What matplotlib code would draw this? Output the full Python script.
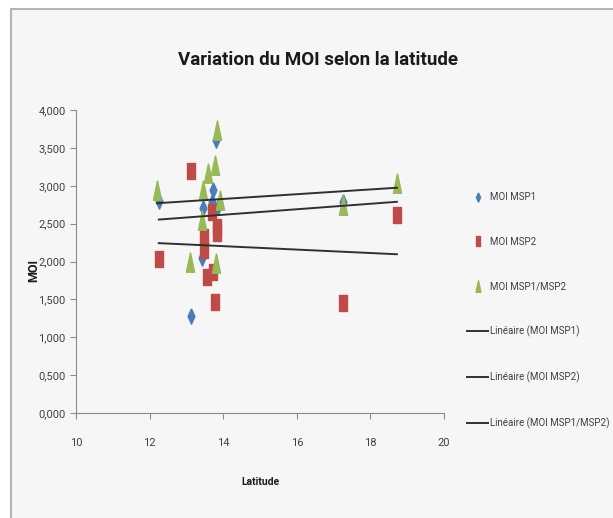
# MOI vs latitude scatter with linear trend lines

import numpy as np
import matplotlib.pyplot as plt
from matplotlib.patches import Rectangle
from matplotlib.ticker import FuncFormatter
from matplotlib.lines import Line2D

plt.rcParams['font.family'] = ['Roboto', 'DejaVu Sans']

# data
lat_msp1 = [12.25, 13.12, 13.42, 13.45, 13.70, 13.72, 13.80, 13.86, 17.26, 18.72]
moi_msp1 = [2.80, 1.28, 2.05, 2.70, 2.79, 2.94, 3.60, 2.72, 2.79, 2.62]

lat_msp2 = [12.25, 13.12, 13.48, 13.48, 13.56, 13.72, 13.78, 13.83, 13.83, 13.70, 17.26, 18.72]
moi_msp2 = [2.03, 3.19, 2.32, 2.15, 1.80, 1.86, 1.47, 2.38, 2.45, 2.65, 1.45, 2.62]

lat_ratio = [12.20, 13.10, 13.83, 13.78, 13.60, 13.45, 13.42, 13.80, 13.90, 17.26, 18.72]
moi_ratio = [2.94, 1.99, 3.74, 3.27, 3.17, 2.94, 2.55, 1.98, 2.81, 2.75, 3.04]

series_names = ['MOI MSP1', 'MOI MSP2', 'MOI MSP1/MSP2']
trend_names = ['Linéaire (MOI MSP1)', 'Linéaire (MOI MSP2)', 'Linéaire (MOI MSP1/MSP2)']

x_ticks = [10, 12, 14, 16, 18, 20]
y_ticks = [0, 0.5, 1, 1.5, 2, 2.5, 3, 3.5, 4]

diamond = [(0, 1), (0.45, 0), (0, -1), (-0.45, 0), (0, 1)]
rect = [(-0.5, -1), (0.5, -1), (0.5, 1), (-0.5, 1), (-0.5, -1)]
tri = [(0, 1), (0.42, -1), (-0.42, -1), (0, 1)]

colors = ['#4a7ebb', '#be4b48', '#98b954']
markers = [diamond, rect, tri]
sizes = [11, 12, 14]

fig = plt.figure(figsize=(6.13, 5.18), dpi=100)
fig.patch.set_facecolor('white')
fig.add_artist(Rectangle((11/613, -0.01), 1.0, 1 - 9/518 + 0.01, transform=fig.transFigure,
                         facecolor='#f6f6f6', edgecolor='#b4b4b4', lw=1.5, zorder=0))

ax = fig.add_axes([76/613, 1 - 413/518, 368/613, 303/518])
ax.set_facecolor('none')

data = [(lat_msp1, moi_msp1), (lat_msp2, moi_msp2), (lat_ratio, moi_ratio)]

for (x, y), c, m, s in zip(data, colors, markers, sizes):
    ax.plot(x, y, linestyle='none', marker=m, color=c, markersize=s, zorder=3)

# trend lines from least squares fit
for x, y in data:
    a, b = np.polyfit(x, y, 1)
    xs = np.array([min(x), max(x)])
    ax.plot(xs, a*xs + b, color='#303030', lw=1.4, zorder=4)

ax.set_xlim(10, 20)
ax.set_ylim(0, 4)
ax.set_xticks(x_ticks)
ax.set_yticks(y_ticks)
ax.yaxis.set_major_formatter(FuncFormatter(lambda v, p: f"{v:.3f}".replace('.', ',')))
for sp in ['top', 'right']:
    ax.spines[sp].set_visible(False)
for sp in ['left', 'bottom']:
    ax.spines[sp].set_color('#8c8c8c')
ax.tick_params(direction='out', length=4, color='#8c8c8c', labelsize=8, labelcolor='#404040')
ax.tick_params(axis='x', pad=14)

fig.text(318/613, 1 - 60/518, 'Variation du MOI selon la latitude', ha='center', va='center',
         fontsize=13.5, fontweight='bold', color='#1a1a1a')
fig.text(34/613, 1 - 270/518, 'MOI', ha='center', va='center', rotation=90,
         fontsize=9, fontweight='bold', color='#1a1a1a')
fig.text(260/613, 1 - 482/518, 'Latitude', ha='center', va='center',
         fontsize=7.5, fontweight='bold', color='#1a1a1a')

handles = []
for c, m, s, n in zip(colors, markers, sizes, series_names):
    handles.append(Line2D([], [], linestyle='none', marker=m, color=c, markersize=s*0.6, label=n))
for n in trend_names:
    handles.append(Line2D([], [], color='#303030', lw=1.4, label=n))

fig.legend(handles=handles, loc='upper left', bbox_to_anchor=(467/613, 1 - 192/518),
           bbox_transform=fig.transFigure, frameon=False, fontsize=7, labelspacing=3.55,
           handlelength=2.2, handletextpad=0.2, borderpad=0, borderaxespad=0, labelcolor='#404040')

fig.savefig('out.png', dpi=100)
